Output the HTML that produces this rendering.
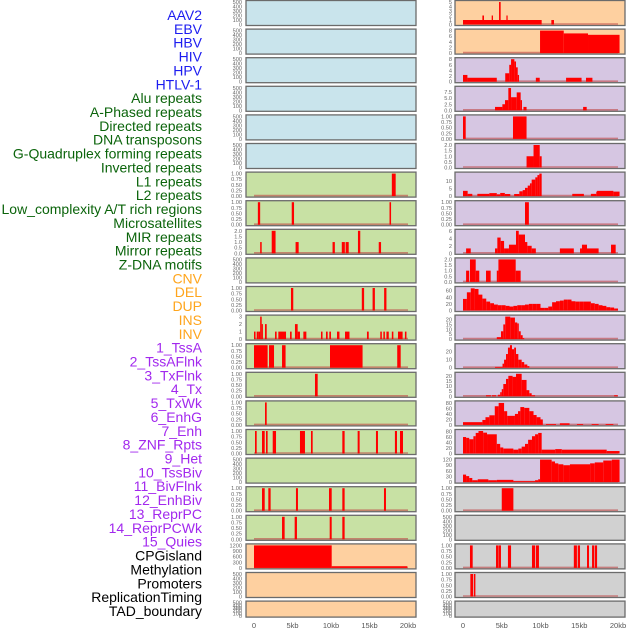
<!DOCTYPE html>
<html><head><meta charset="utf-8">
<style>
html,body{margin:0;padding:0;background:#fff;}
#wrap{position:relative;width:630px;height:630px;overflow:hidden;font-family:"Liberation Sans",sans-serif;}
svg{position:absolute;left:0;top:0;}
</style></head>
<body>
<div id="wrap">
<svg id="chart" width="630" height="630" viewBox="0 0 630 630"></svg>
</div>
<script>
// ---- labels ----
const labels = ["AAV2","EBV","HBV","HIV","HPV","HTLV-1","Alu repeats","A-Phased repeats","Directed repeats","DNA transposons","G-Quadruplex forming repeats","Inverted repeats","L1 repeats","L2 repeats","Low_complexity A/T rich regions","Microsatellites","MIR repeats","Mirror repeats","Z-DNA motifs","CNV","DEL","DUP","INS","INV","1_TssA","2_TssAFlnk","3_TxFlnk","4_Tx","5_TxWk","6_EnhG","7_Enh","8_ZNF_Rpts","9_Het","10_TssBiv","11_BivFlnk","12_EnhBiv","13_ReprPC","14_ReprPCWk","15_Quies","CPGisland","Methylation","Promoters","ReplicationTiming","TAD_boundary"];
const labelGroups = ["virus","virus","virus","virus","virus","virus","rep","rep","rep","rep","rep","rep","rep","rep","rep","rep","rep","rep","rep","sv","sv","sv","sv","sv","hmm","hmm","hmm","hmm","hmm","hmm","hmm","hmm","hmm","hmm","hmm","hmm","hmm","hmm","hmm","other","other","other","other","other"];
const xTickKb = [0,5,10,15,20];
const xTickLabels = ["0","5kb","10kb","15kb","20kb"];

// ---- track data: segments [startKb, endKb, value] ----
const aav2 = [], ebv = [], hbv = [], hiv = [], hpv = [], htlv1 = [];
const alu = [[17.9,18.4,1]];
const aphased = [[0.5,0.8,1],[4.9,5.2,1],[17.6,17.8,1]];
const directed = [[0.8,1.0,1],[2.3,2.8,2],[5.4,5.8,1],[10.2,10.5,1],[11.4,11.8,1],[11.9,12.3,1],[13.5,13.8,2],[16.2,16.5,1]];
const dnaTransposons = [];
const gquad = [[4.8,5.1,1],[14.0,14.3,1],[15.4,15.7,1],[16.9,17.2,1]];
const inverted = [[0,0.2,1],[0.35,0.56,1],[0.56,0.8,1],[0.8,1.0,3],[1.0,1.12,2],[1.43,1.65,2],[2.73,2.94,1],[3.16,4.16,1],[4.68,4.89,1],[5.32,5.67,2],[5.67,5.97,1],[6.41,6.8,1],[8.7,8.9,1],[9.35,9.57,1],[9.78,10.0,1],[10.78,11.1,1],[11.82,12.4,1],[14.67,14.9,1],[16.4,16.6,1],[16.8,17.0,1],[17.2,17.5,1],[17.9,18.1,1],[18.7,19.3,1],[19.6,19.8,1]];
const l1 = [[0,1.77,1],[1.95,2.6,1],[3.64,4.1,1],[9.87,14.1,1],[18.6,19.05,1]];
const l2 = [[7.92,8.27,1]];
const lowComplexity = [[1.43,1.65,1]];
const microsat = [[0.13,0.35,1],[1.04,1.39,1],[1.56,1.77,1],[2.43,2.86,1],[5.97,6.62,1],[7.4,7.62,1],[11.47,11.77,1],[13.46,13.72,1],[15.84,16.1,1],[18.3,18.57,1],[18.96,19.35,1]];
const mir = [];
const mirror = [[1.04,1.39,1],[1.86,2.16,1],[5.45,5.71,1],[9.74,10.09,1],[11.47,11.77,1],[16.88,17.14,1]];
const zdna = [[3.64,3.98,1],[5.28,5.58,1],[9.83,10.09,1],[11.47,11.77,1]];
const cnv = [[0,10.09,1200],[10.09,19.9,90]];
const del = [], dup = [];
const ins = [[0,10.15,1],[2.5,2.71,2],[3.7,3.87,2],[4.65,4.86,5],[5.6,5.76,2],[11.4,11.74,1]];
const inv = [[9.94,13.0,8],[13.0,16.13,7],[16.13,20.2,6.5]];
const tssA = [[0,0.57,2.4],[0.57,4.36,1.4],[5.45,5.97,3],[5.97,6.2,6],[6.2,6.63,8],[6.63,6.84,7.2],[6.84,7.06,5.1],[7.06,7.23,2.4],[9.4,9.9,1.4],[13.3,15.3,1.4],[15.87,16.7,1.4]];
const tssAFlnk = [[4.13,5.08,1.4],[5.08,5.42,2.5],[5.42,5.85,4.2],[5.85,6.2,9.2],[6.2,6.93,5.4],[6.93,7.44,7.4],[7.44,7.61,4.2],[7.8,8.2,1.4],[15.5,15.96,1.4]];
const txFlnk = [[0,0.35,1],[6.45,8.2,1]];
const tx = [[8.2,9.1,1],[9.1,9.9,2],[9.9,10.15,1]];
const txWk = [[0,0.6,3.5],[0.6,1.2,1.5],[1.85,3.4,1.5],[3.4,4.36,2],[4.36,4.8,1.2],[4.8,5.4,2.1],[5.4,6.1,1.4],[6.6,7.27,1.4],[7.27,7.7,3.2],[7.7,8.0,4],[8.0,8.35,5.5],[8.35,8.64,7],[8.64,8.86,8.5],[8.86,9.33,11],[9.33,9.6,12.5],[9.6,9.85,14],[9.85,10.15,15],[14.1,15.6,1.5],[16.5,17.2,1.5],[17.2,17.3,3],[17.3,19.4,3.5],[19.4,20.2,3]];
const enhG = [[8.0,8.5,1]];
const enh = [[0.4,1.0,1.3],[4.13,4.43,1.3],[4.43,4.86,4.2],[4.86,5.3,3.3],[5.3,5.93,1.3],[5.93,6.84,2.3],[6.84,7.19,6],[7.19,8.0,5],[8.0,8.3,3],[8.3,8.86,2],[8.86,9.4,1.3],[12.5,14.3,1.3],[15.1,15.35,1.3],[15.35,16.0,2.3],[16.0,17.5,1.3],[19.1,19.7,2.3]];
const znf = [[0.4,0.8,1],[0.9,1.64,2],[1.64,2.1,1],[2.97,3.57,1],[4.36,4.57,1],[4.57,6.8,2],[6.8,7.44,1]];
const hetBins = [35,55,67,65,48,36,27,22,18,16,16,14,12,14,16,16,18,20,20,20,8,8,12,25,28,30,33,33,28,27,27,27,27,22,20,16,14,10,9,6];
const tssBiv = [[4.36,4.9,2],[4.9,5.2,8],[5.2,5.45,15],[5.45,6.1,23],[6.1,6.7,22],[6.7,7.0,17],[7.0,7.2,16],[7.2,7.45,8],[7.45,7.7,4],[7.7,7.9,1]];
const bivFlnk = [[4.13,5.1,1],[5.1,5.3,5],[5.3,5.55,10],[5.55,5.8,17],[5.8,6.06,25],[6.06,6.32,28],[6.32,6.6,23],[6.6,6.84,25],[6.84,7.14,17],[7.14,7.57,10],[7.57,7.9,7],[7.9,8.3,4],[8.3,8.56,2]];
const enhBiv = [[2.97,3.6,1],[3.74,4.26,1],[4.5,4.8,1.5],[4.8,5.0,4],[5.0,5.2,7],[5.2,5.55,12],[5.55,5.85,17],[5.85,6.4,20],[6.4,6.84,19],[6.84,7.57,22],[7.57,8.2,16],[8.2,8.56,6],[8.56,8.86,3],[8.86,9.3,1],[19.5,19.96,1]];
const reprPC = [[0,2.5,10],[2.5,2.9,18],[2.9,3.4,28],[3.4,4.1,35],[4.1,4.6,68],[4.6,5.3,80],[5.3,5.7,50],[5.7,6.7,33],[6.7,7.1,40],[7.1,7.4,50],[7.4,7.9,65],[7.9,8.56,62],[8.56,9.1,50],[9.1,9.5,36],[9.5,10.0,28],[10.0,10.3,20],[10.7,12.0,3],[12.5,13.75,6],[14.7,15.5,3],[16.6,17.5,3],[18.4,19.4,3]];
const reprPCWk = [[0,0.4,60],[0.4,0.8,57],[0.8,1.34,52],[1.34,1.64,63],[1.64,2.0,75],[2.0,2.6,82],[2.6,3.1,76],[3.1,4.36,70],[4.36,4.8,35],[4.8,5.2,22],[5.2,6.5,18],[6.5,7.14,14],[7.14,7.57,18],[7.57,8.0,25],[8.0,8.4,35],[8.4,8.9,50],[8.9,9.3,63],[9.3,9.7,70],[9.7,10.15,75],[10.15,11.9,14],[11.9,12.75,16],[12.75,18.54,14],[18.54,20.2,9]];
const quies = [[0,0.4,40],[0.4,0.8,32],[0.8,1.2,22],[1.2,1.9,10],[1.9,3.27,15],[3.27,4.36,10],[4.36,6.5,12],[6.5,9.3,5],[9.3,9.7,10],[9.7,9.94,15],[9.94,11.44,120],[11.44,11.87,110],[11.87,12.3,100],[12.3,12.95,95],[12.95,13.8,90],[13.8,16.4,95],[16.4,17.0,100],[17.0,18.1,105],[18.1,19.2,115],[19.2,20.2,120]];
const cpg = [[5.0,6.5,1]];
const methylation = [];
const promoters = [[0.9,1.25,1],[4.26,4.56,1],[4.6,4.9,1],[5.8,6.2,1],[8.9,9.3,1],[9.4,9.8,1],[14.3,14.7,1],[14.8,15.1,1],[16.0,16.26,1],[16.65,16.95,1],[17.03,17.3,1]];
const replication = [[0.95,1.3,1],[1.4,1.6,1]];
const tad = [];

// ---- axis tick sets ----
const tEmpty = ["0","100","200","300","400","500"];
const tUnit = ["0.00","0.25","0.50","0.75","1.00"];
const tTwo = ["0.0","0.5","1.0","1.5","2.0"];
const tThree = ["0","1","2","3"];
const tFive = ["0","1","2","3","4","5"];
const tEight = ["0","2","4","6","8"];
const tSeven = ["0.0","2.5","5.0","7.5"];
const tFifteen = ["0","5","10"];
const tSix = ["0","2","4","6"];
const tSixty = ["0","20","40","60"];
const tTwenty = ["0","5","10","15","20"];
const tTen = ["0","10","20"];
const tEighty = ["0","20","40","60","80"];
const tCnv = ["0","300","600","900","1200"];
const tQuies = ["0","30","60","90","120"];

function hetSegs(){const s=[];hetBins.forEach((v,i)=>s.push([i*0.5,i*0.5+0.5,v]));return s;}

// [data, ymax, ticks, bg]
const BLUE="#c9e4ec", GREEN="#c8e1a4", PEACH="#fed0a0", LAV="#d6c6e2", GREY="#d1d1d1";
const leftTracks = [
 [aav2,500,tEmpty,BLUE],[ebv,500,tEmpty,BLUE],[hbv,500,tEmpty,BLUE],[hiv,500,tEmpty,BLUE],[hpv,500,tEmpty,BLUE],[htlv1,500,tEmpty,BLUE],
 [alu,1,tUnit,GREEN],[aphased,1,tUnit,GREEN],[directed,2,tTwo,GREEN],[dnaTransposons,500,tEmpty,GREEN],[gquad,1,tUnit,GREEN],[inverted,3,tThree,GREEN],
 [l1,1,tUnit,GREEN],[l2,1,tUnit,GREEN],[lowComplexity,1,tUnit,GREEN],[microsat,1,tUnit,GREEN],[mir,500,tEmpty,GREEN],[mirror,1,tUnit,GREEN],[zdna,1,tUnit,GREEN],
 [cnv,1200,tCnv,PEACH],[del,500,tEmpty,PEACH],[dup,500,tEmpty,PEACH]
];
const rightTracks = [
 [ins,5,tFive,PEACH],[inv,8,tEight,PEACH],
 [tssA,8,tEight,LAV],[tssAFlnk,9.3,tSeven,LAV],[txFlnk,1,tUnit,LAV],[tx,2,tTwo,LAV],[txWk,15,tFifteen,LAV],[enhG,1,tUnit,LAV],[enh,6,tSix,LAV],[znf,2,tTwo,LAV],
 [hetSegs(),68,tSixty,LAV],[tssBiv,23,tTwenty,LAV],[bivFlnk,28,tTen,LAV],[enhBiv,22,tTwenty,LAV],[reprPC,82,tEighty,LAV],[reprPCWk,82,tEighty,LAV],[quies,120,tQuies,LAV],
 [cpg,1,tUnit,GREY],[methylation,500,tEmpty,GREY],[promoters,1,tUnit,GREY],[replication,1,tUnit,GREY],[tad,500,tEmpty,GREY]
];

const NS="http://www.w3.org/2000/svg";
const svg=document.getElementById("chart");
function mk(tag,attrs,parent){const e=document.createElementNS(NS,tag);for(const k in attrs)e.setAttribute(k,attrs[k]);(parent||svg).appendChild(e);return e;}

// labels
const colorMap={virus:"#1c1cf0",rep:"#0b640b",sv:"#ffa51c",hmm:"#a228ee",other:"#000"};
labels.forEach((t,i)=>{
  const e=mk("text",{x:202,y:15+i*13.86+5,"text-anchor":"end","font-size":"14","font-family":"Liberation Sans, sans-serif",fill:colorMap[labelGroups[i]]});
  e.textContent=t;
  
  
});

const rowTops=[0,28.6,57.2,85.8,114.4,143,171.6,200.2,228.8,257.4,286,314.6,343.2,371.8,400.4,429,457.6,486.2,514.8,543.4,572,600.6];
const cols=[{fx:246,fw:170,x0:254,x1:408,tx:242,tracks:leftTracks},{fx:455,fw:170,x0:463,x1:618,tx:452,tracks:rightTracks}];

cols.forEach((c,ci)=>{
  const xs=kb=>c.x0+(c.x1-c.x0)*kb/20;
  c.tracks.forEach((tr,ri)=>{
    const [data,ymax,ticks,bg]=tr;
    const top=rowTops[ri];
    const h= ri===21?16:25;
    const g=mk("g",{});
    
    
    const r=mk("rect",{x:c.fx,y:top+0.5,width:c.fw,height:h,fill:bg,stroke:"#6b6b6b","stroke-width":1.3},g);
    
    
    const pb=top+h-0.5, ph=h-2.5;
    const ys=v=>pb-ph*v/ymax;
    // ticks
    const n=ticks.length;
    ticks.forEach((t,k)=>{
      const yv=pb-ph*k/(n-1)*(ymax===500?1:(parseFloat(ticks[n-1])/ymax));
      const e=mk("text",{x:c.tx,y:yv+2,"text-anchor":"end","font-size":"5.6","font-family":"Liberation Sans, sans-serif",fill:"#666"},g);
      e.textContent=t;
      
      
    });
    if(data.length){
      const bl=mk("line",{x1:xs(0),x2:xs(20),y1:pb-0.5,y2:pb-0.5,stroke:"rgba(190,70,70,0.6)","stroke-width":1.6},g);
      
      
    }
    data.forEach(s=>{
      const x=xs(s[0]),w=Math.max(1.2,xs(s[1])-xs(s[0]));
      const y=ys(s[2]);
      const b=mk("rect",{x:x,y:y,width:w,height:pb-y,fill:"#ff0000"},g);
      
      
    });
  });
  xTickKb.forEach((k,i)=>{
    const e=mk("text",{x:xs(k),y:628,"text-anchor":"middle","font-size":"7.5","font-family":"Liberation Sans, sans-serif",fill:"#555"});
    e.textContent=xTickLabels[i];
    
    
  });
});
</script>
</body></html>
